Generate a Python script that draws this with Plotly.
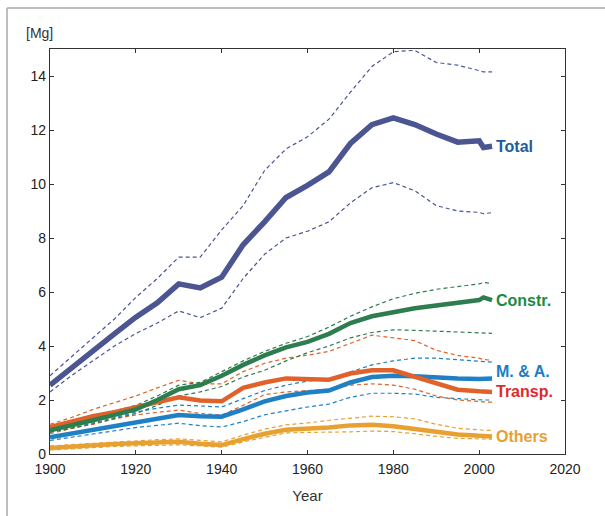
import plotly.graph_objects as go

years = [1900, 1905, 1910, 1915, 1920, 1925, 1930, 1935, 1940, 1945, 1950, 1955,
         1960, 1965, 1970, 1975, 1980, 1985, 1990, 1995, 2000, 2001, 2003]

total = [2.55, 3.2, 3.85, 4.45, 5.07, 5.6, 6.3, 6.15, 6.55, 7.75, 8.6, 9.5,
         9.95, 10.45, 11.5, 12.2, 12.45, 12.2, 11.85, 11.55, 11.6, 11.35, 11.4]
total_hi = [2.9, 3.6, 4.3, 5.0, 5.8, 6.5, 7.29, 7.29, 8.3, 9.2, 10.5, 11.3,
            11.75, 12.4, 13.4, 14.35, 14.9, 14.95, 14.5, 14.4, 14.2, 14.15, 14.15]
total_lo = [2.3, 2.9, 3.45, 4.0, 4.46, 4.85, 5.3, 5.05, 5.4, 6.5, 7.4, 8.0,
            8.25, 8.6, 9.3, 9.86, 10.05, 9.75, 9.2, 9.0, 8.95, 8.9, 8.94]

constr = [0.88, 1.05, 1.25, 1.45, 1.65, 2.0, 2.4, 2.55, 2.9, 3.3, 3.65, 3.95,
          4.15, 4.45, 4.85, 5.1, 5.25, 5.4, 5.5, 5.6, 5.7, 5.8, 5.7]
constr_hi = [0.95, 1.15, 1.4, 1.6, 1.8, 2.15, 2.55, 2.65, 3.05, 3.45, 3.8, 4.1,
             4.35, 4.7, 5.1, 5.45, 5.75, 5.95, 6.1, 6.2, 6.3, 6.35, 6.32]
constr_lo = [0.82, 0.95, 1.12, 1.3, 1.5, 1.8, 2.15, 2.3, 2.5, 2.85, 3.1, 3.45,
             3.75, 4.0, 4.3, 4.5, 4.6, 4.58, 4.55, 4.5, 4.47, 4.47, 4.47]

transp = [1.0, 1.2, 1.4, 1.55, 1.74, 1.9, 2.1, 1.98, 1.95, 2.45, 2.65, 2.8,
          2.78, 2.75, 2.98, 3.1, 3.1, 2.85, 2.6, 2.38, 2.32, 2.3, 2.3]
transp_hi = [1.1, 1.35, 1.65, 1.9, 2.15, 2.45, 2.73, 2.6, 2.6, 3.05, 3.36, 3.55,
             3.66, 3.8, 4.1, 4.4, 4.3, 4.2, 3.84, 3.65, 3.55, 3.5, 3.47]
transp_lo = [0.75, 0.95, 1.1, 1.3, 1.45, 1.55, 1.63, 1.5, 1.44, 1.8, 2.2, 2.3,
             2.36, 2.4, 2.55, 2.6, 2.55, 2.4, 2.15, 2.0, 1.95, 1.93, 1.92]

ma = [0.62, 0.75, 0.9, 1.02, 1.14, 1.3, 1.44, 1.4, 1.38, 1.65, 1.95, 2.15,
      2.28, 2.35, 2.65, 2.85, 2.9, 2.88, 2.82, 2.8, 2.78, 2.8, 2.8]
ma_hi = [0.8, 0.95, 1.15, 1.35, 1.55, 1.7, 1.81, 1.78, 1.74, 2.05, 2.35, 2.55,
         2.7, 2.78, 3.05, 3.3, 3.45, 3.55, 3.55, 3.5, 3.45, 3.42, 3.4]
ma_lo = [0.5, 0.62, 0.75, 0.88, 0.98, 1.06, 1.14, 1.05, 1.0, 1.2, 1.45, 1.6,
         1.74, 1.85, 2.1, 2.25, 2.25, 2.22, 2.1, 2.05, 2.0, 2.0, 2.0]

others = [0.22, 0.28, 0.33, 0.37, 0.4, 0.42, 0.45, 0.38, 0.33, 0.55, 0.75, 0.9,
          0.93, 0.98, 1.06, 1.08, 1.03, 0.92, 0.8, 0.72, 0.68, 0.66, 0.65]
others_hi = [0.3, 0.35, 0.4, 0.45, 0.5, 0.53, 0.56, 0.5, 0.45, 0.7, 0.92, 1.08,
             1.15, 1.25, 1.33, 1.4, 1.38, 1.3, 1.1, 0.95, 0.9, 0.88, 0.87]
others_lo = [0.15, 0.2, 0.25, 0.28, 0.3, 0.32, 0.34, 0.3, 0.25, 0.45, 0.62, 0.78,
             0.8, 0.8, 0.82, 0.85, 0.83, 0.75, 0.65, 0.58, 0.55, 0.55, 0.55]

series = [
    ("Others", others, others_hi, others_lo, "#e8a030", "#e8a030"),
    ("M. & A.", ma, ma_hi, ma_lo, "#1f80c4", "#1b7ec2"),
    ("Transp.", transp, transp_hi, transp_lo, "#e0622a", "#e02a2a"),
    ("Constr.", constr, constr_hi, constr_lo, "#2e7d4f", "#1a8c45"),
    ("Total", total, total_hi, total_lo, "#4a5592", "#1f5c9c"),
]

fig = go.Figure()
for name, mid, hi, lo, col, lcol in series:
    for band in (hi, lo):
        fig.add_trace(go.Scatter(x=years, y=band, mode="lines",
                                 line=dict(color=col, width=1.2, dash="4px,3px"),
                                 showlegend=False, hoverinfo="skip"))
for name, mid, hi, lo, col, lcol in series:
    fig.add_trace(go.Scatter(x=years, y=mid, mode="lines", name=name,
                             line=dict(color=col, width=5.5 if name == "Total" else 4.5),
                             showlegend=False))

label_y = {"Total": 11.4, "Constr.": 5.7, "M. & A.": 3.07, "Transp.": 2.3, "Others": 0.63}
for name, mid, hi, lo, col, lcol in series:
    fig.add_annotation(x=2003.5, y=label_y[name], text="<b>%s</b>" % name,
                       showarrow=False, xanchor="left", yanchor="middle",
                       font=dict(family="Liberation Sans Narrow, Liberation Sans, Arial",
                                 size=16, color=lcol))

fig.add_annotation(x=-0.02, y=1.0, xref="paper", yref="paper", text="[Mg]",
                   showarrow=False, xanchor="center", yanchor="bottom", yshift=6,
                   font=dict(family="Liberation Sans, Arial", size=14, color="#333"))

axis_common = dict(showline=True, linecolor="#333", linewidth=1.2, mirror="ticks",
                   ticks="inside", ticklen=4, tickcolor="#333", showgrid=False,
                   zeroline=False,
                   tickfont=dict(family="Liberation Sans, Arial", size=14, color="#222"))

fig.update_xaxes(range=[1900, 2020], tickvals=[1900, 1920, 1940, 1960, 1980, 2000, 2020],
                 ticklabelstandoff=2,
                 title=dict(text="Year", standoff=14,
                            font=dict(family="Liberation Sans, Arial", size=15, color="#333")),
                 **axis_common)
fig.update_yaxes(range=[0, 15], tickvals=[0, 2, 4, 6, 8, 10, 12, 14], **axis_common)

# outer frame of the figure
fig.add_shape(type="line", xref="paper", yref="paper", x0=-0.0835, y0=1.101, x1=1.1, y1=1.101,
              line=dict(color="#aaaaaa", width=1.5))
fig.add_shape(type="line", xref="paper", yref="paper", x0=-0.0835, y0=1.101, x1=-0.0835, y1=-0.2,
              line=dict(color="#aaaaaa", width=1.5))

fig.update_layout(width=605, height=516, margin=dict(l=50, r=40, t=49, b=62),
                  paper_bgcolor="white", plot_bgcolor="white", showlegend=False)

fig.write_html("out.html")
